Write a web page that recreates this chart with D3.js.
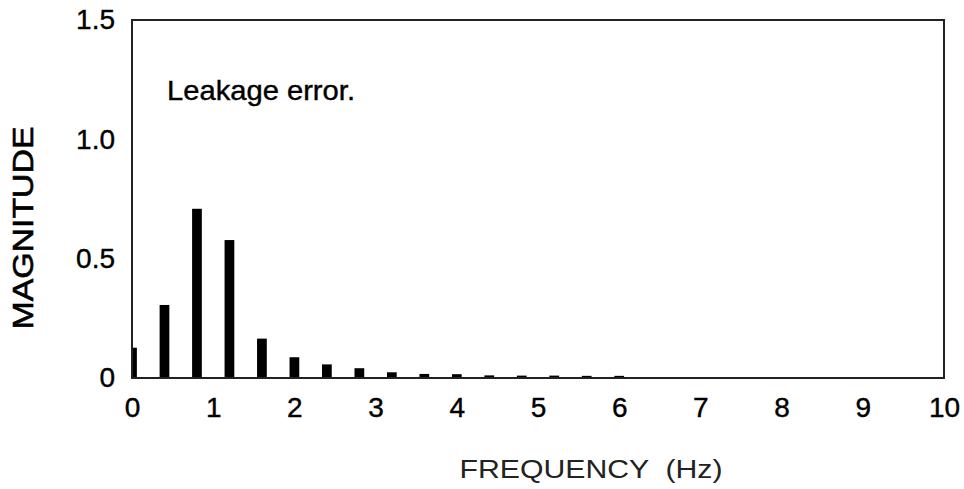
<!DOCTYPE html>
<html>
<head>
<meta charset="utf-8">
<script src="https://cdn.jsdelivr.net/npm/d3@7.9.0/dist/d3.min.js"></script>
<style>
  body { margin: 0; background: #fff; }
  svg text { font-family: "Liberation Sans", Arial, sans-serif; fill: #000; }
</style>
</head>
<body>
<svg id="chart" width="964" height="489"></svg>
<script>
// frequency bins (Hz) and leakage magnitudes
const freqs = [0, 0.4, 0.8, 1.2, 1.6, 2.0, 2.4, 2.8, 3.2, 3.6, 4.0, 4.4, 4.8, 5.2, 5.6, 6.0];
const magnitudes = [0.127, 0.306, 0.709, 0.578, 0.165, 0.087, 0.057, 0.041, 0.024, 0.017, 0.016, 0.011, 0.010, 0.010, 0.009, 0.009];
const xTicks = [0, 1, 2, 3, 4, 5, 6, 7, 8, 9, 10];
const yTicks = [0, 0.5, 1.0, 1.5];
const yTickLabels = ["0", "0.5", "1.0", "1.5"];

const margin = { left: 132, right: 20, top: 20, bottom: 111 };
const width = 964, height = 489;
const svg = d3.select('#chart');

const x = d3.scaleLinear().domain([0, 10]).range([margin.left, width - margin.right]);
const y = d3.scaleLinear().domain([0, 1.5]).range([height - margin.bottom, margin.top]);
const barW = x(0.12) - x(0);

svg.append('clipPath').attr('id', 'plot')
  .append('rect')
  .attr('x', x(0)).attr('y', y(1.5))
  .attr('width', x(10) - x(0)).attr('height', y(0) - y(1.5));

// bars
svg.append('g').attr('clip-path', 'url(#plot)')
  .selectAll('rect')
  .data(freqs)
  .join('rect')
  .attr('x', (d) => x(d) - barW / 2)
  .attr('y', (d, i) => y(magnitudes[i]))
  .attr('width', barW)
  .attr('height', (d, i) => y(0) - y(magnitudes[i]))
  .attr('fill', '#000');

// axes (labels only, no tick marks)
const xAxis = svg.append('g')
  .attr('transform', `translate(0,${y(0)})`)
  .call(d3.axisBottom(x).tickValues(xTicks).tickSize(0).tickPadding(19).tickFormat(d3.format('d')));
const yAxis = svg.append('g')
  .attr('transform', `translate(${x(0)},0)`)
  .call(d3.axisLeft(y).tickValues(yTicks).tickSize(0).tickPadding(17).tickFormat((d, i) => yTickLabels[i]));
[xAxis, yAxis].forEach((g) => {
  g.select('.domain').remove();
  g.selectAll('text')
    .attr('font-size', 28)
    .attr('font-family', '"Liberation Sans", Arial, sans-serif')
    .attr('stroke', '#000').attr('stroke-width', 0.4);
});

// frame
svg.append('rect')
  .attr('x', x(0)).attr('y', y(1.5))
  .attr('width', x(10) - x(0)).attr('height', y(0) - y(1.5))
  .attr('fill', 'none').attr('stroke', '#222').attr('stroke-width', 2);

// annotation
svg.append('text')
  .attr('x', 167).attr('y', 100)
  .attr('font-size', 28)
  .attr('textLength', 188)
  .attr('lengthAdjust', 'spacingAndGlyphs')
  .attr('stroke', '#000').attr('stroke-width', 0.4)
  .text('Leakage error.');

// axis titles
svg.append('text')
  .attr('transform', `translate(33,228) rotate(-90)`)
  .attr('text-anchor', 'middle')
  .attr('font-size', 29)
  .attr('textLength', 203)
  .attr('lengthAdjust', 'spacingAndGlyphs')
  .attr('stroke', '#000').attr('stroke-width', 0.6)
  .text('MAGNITUDE');

svg.append('text')
  .attr('x', 591).attr('y', 478)
  .attr('text-anchor', 'middle')
  .attr('font-size', 25)
  .attr('textLength', 263)
  .attr('lengthAdjust', 'spacingAndGlyphs')
  .style('white-space', 'pre')
  .style('fill', '#222')
  .text('FREQUENCY  (Hz)');
</script>
</body>
</html>
